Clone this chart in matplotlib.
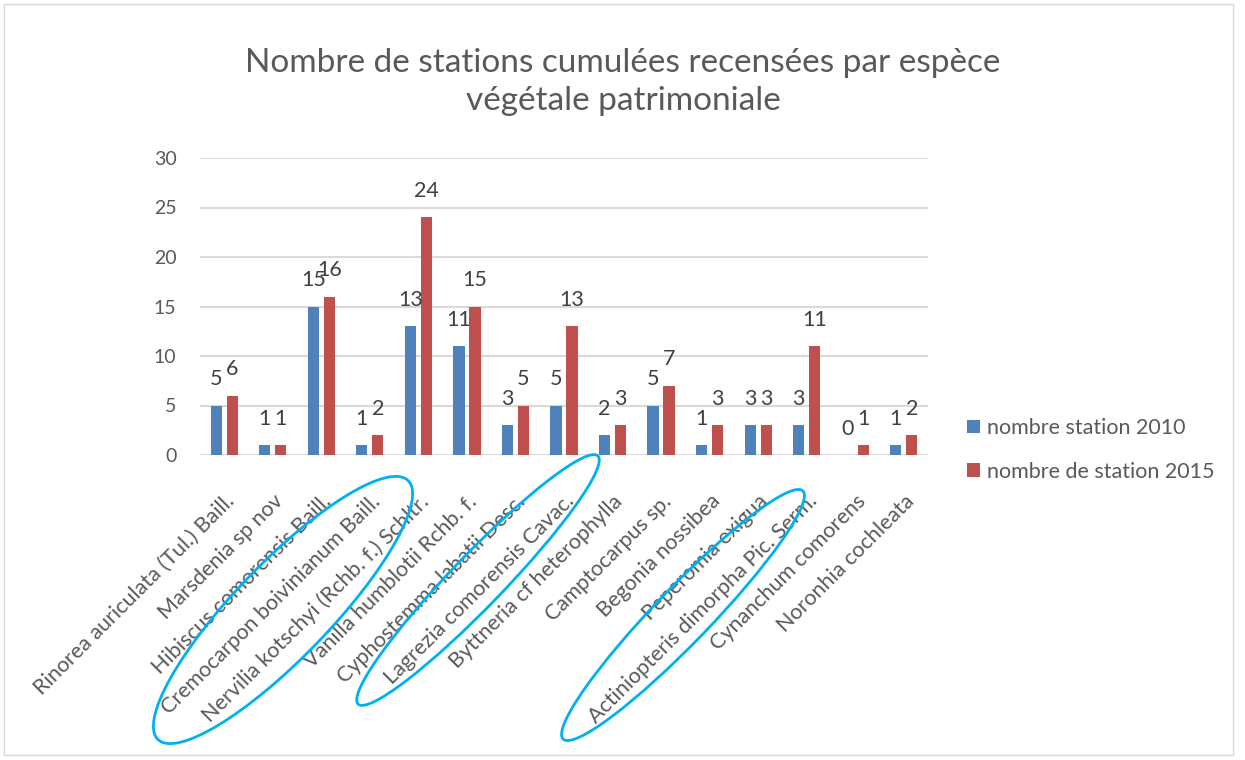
import matplotlib.pyplot as plt
from matplotlib.patches import Ellipse, Rectangle
import numpy as np

plt.rcParams['font.family'] = ['Lato', 'DejaVu Sans']

especes = [
    'Rinorea auriculata (Tul.) Baill.',
    'Marsdenia sp nov',
    'Hibiscus comorensis Baill.',
    'Cremocarpon boivinianum Baill.',
    'Nervilia kotschyi (Rchb. f.) Schltr.',
    'Vanilla humblotii Rchb. f.',
    'Cyphostemma labatii Desc.',
    'Lagrezia comorensis Cavac.',
    'Byttneria cf heterophylla',
    'Camptocarpus sp.',
    'Begonia nossibea',
    'Peperomia exigua',
    'Actiniopteris dimorpha Pic. Serm.',
    'Cynanchum comorens',
    'Noronhia cochleata',
]
stations_2010 = [5, 1, 15, 1, 13, 11, 3, 5, 2, 5, 1, 3, 3, 0, 1]
stations_2015 = [6, 1, 16, 2, 24, 15, 5, 13, 3, 7, 3, 3, 11, 1, 2]
yticks = [0, 5, 10, 15, 20, 25, 30]

gris = '#595959'
bleu = '#4F81BD'
rouge = '#C0504D'

fig = plt.figure(figsize=(12.45, 7.6), dpi=100)
ax = fig.add_axes([200 / 1245, 305 / 760, 728 / 1245, 297 / 760])

x = np.arange(len(especes))
w = 0.23
d = 0.165
b1 = ax.bar(x - d, stations_2010, w, color=bleu, label='nombre station 2010', zorder=3)
b2 = ax.bar(x + d, stations_2015, w, color=rouge, label='nombre de station 2015', zorder=3)

for bars in (b1, b2):
    for r in bars:
        ax.annotate(str(int(r.get_height())), (r.get_x() + r.get_width() / 2, r.get_height()),
                    xytext=(0, 19), textcoords='offset points', ha='center', va='center',
                    fontsize=15.5, color='#404040')

ax.set_xlim(-0.5, len(especes) - 0.5)
ax.set_ylim(0, 30)
ax.set_yticks(yticks)
ax.set_yticklabels([str(v) for v in yticks], fontsize=14, color=gris)
ax.set_xticks(x)
ax.set_xticklabels(especes, rotation=45, ha='right', rotation_mode='anchor', fontsize=15.5, color=gris)
ax.tick_params(axis='x', length=0, pad=26)
ax.tick_params(axis='y', length=0, pad=17)
ax.grid(axis='y', color='#D9D9D9', linewidth=1.5, zorder=0)
for s in ax.spines.values():
    s.set_visible(False)

fig.text(623 / 1245, 1 - 82 / 760, 'Nombre de stations cumulées recensées par espèce\nvégétale patrimoniale',
         ha='center', va='center', fontsize=24, color=gris, linespacing=1.3)

fig.legend(handles=[b1, b2], loc='center left', bbox_to_anchor=(948 / 1245, 1 - 450 / 760),
           frameon=False, fontsize=15.5, handlelength=0.6, handleheight=0.6, handletextpad=0.3,
           labelspacing=1.1, labelcolor=gris)

# annotations ajoutées à la main (ellipses bleues) + cadre
ov = fig.add_axes([0, 0, 1, 1], zorder=10)
ov.set_xlim(0, 1245)
ov.set_ylim(760, 0)
ov.axis('off')
ov.patch.set_alpha(0)
for c, L, H in [((283, 610), 360, 95), ((478, 580), 345, 52), ((683, 615), 345, 55)]:
    ov.add_patch(Ellipse(c, L, H, angle=-46, fill=False, edgecolor='#00B0F0', linewidth=2))
ov.add_patch(Rectangle((4, 4), 1229, 751, fill=False, edgecolor='#D9D9D9', linewidth=1))

plt.savefig('out.png', dpi=100)
